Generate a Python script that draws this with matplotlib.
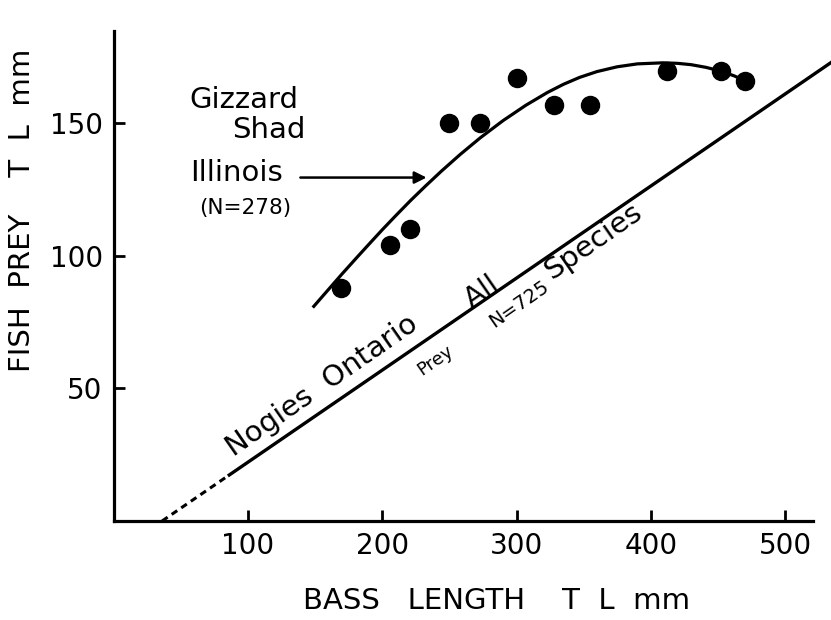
import matplotlib.pyplot as plt

# Gizzard shad eaten by bass, Illinois (N=278)
bass_len = [169, 206, 221, 250, 273, 300, 328, 355, 412, 452, 470]
prey_len = [88, 104, 110, 150, 150, 167, 157, 157, 170, 170, 166]

# fitted curve through the Illinois points
fit_x = [149, 160, 170, 181, 190, 200, 210, 221, 232, 244, 258, 273, 290,
         307, 323, 335, 347, 360, 375, 390, 409, 420, 430, 441, 452, 462, 472]
fit_y = [81, 87.4, 93.2, 99.4, 104.4, 109.9, 115.2, 120.9, 126.3, 132.0,
         138.3, 144.6, 151.1, 156.9, 161.7, 164.8, 167.4, 169.6, 171.4,
         172.5, 172.9, 172.7, 172.2, 171.2, 169.8, 168.0, 165.7]

# Nogies, Ontario - all prey species (N=725)
ont_dash_x = [36, 85]
ont_dash_y = [0, 17]
ont_x = [85, 540]
ont_y = [17, 175]

x_ticks = [100, 200, 300, 400, 500]
y_ticks = [50, 100, 150]

plt.rcParams['font.family'] = 'DejaVu Sans'

fig = plt.figure(figsize=(8.31, 6.2), dpi=100)
ax = fig.add_axes([0.1369, 0.1597, 0.8417, 0.7907])

ax.plot(ont_dash_x, ont_dash_y, color='black', lw=2.2, ls=(0, (2.2, 1.6)), clip_on=False)
ax.plot(ont_x, ont_y, color='black', lw=2.4, solid_capstyle='butt', clip_on=False)
ax.plot(fit_x, fit_y, color='black', lw=2.3, solid_joinstyle='round')
ax.plot(bass_len, prey_len, 'o', color='black', markersize=13, zorder=3)

ax.set_xlim(0, 521)
ax.set_ylim(0, 185)
ax.set_xticks(x_ticks)
ax.set_yticks(y_ticks)
ax.tick_params(direction='in', length=8, width=2, labelsize=20, pad=8)
for side in ['top', 'right']:
    ax.spines[side].set_visible(False)
for side in ['left', 'bottom']:
    ax.spines[side].set_linewidth(2.3)

# labels for the Illinois curve
ax.text(56, 159, 'Gizzard', fontsize=21, ha='left', va='center')
ax.text(142.5, 147.4, 'Shad', fontsize=21, ha='right', va='center')
ax.text(57, 131.3, 'Illinois', fontsize=21, ha='left', va='center')
ax.text(63.5, 118, '(N=278)', fontsize=15.5, ha='left', va='center')
ax.annotate('', xy=(233, 129.6), xytext=(139, 129.6),
            arrowprops=dict(arrowstyle='-|>', color='black', lw=1.8,
                            mutation_scale=18, shrinkA=0, shrinkB=0))

# labels along the Ontario line
ang = 34.8
ax.text(155, 51, 'Nogies  Ontario', fontsize=21, rotation=ang,
        rotation_mode='anchor', ha='center', va='center')
ax.text(274.4, 86.2, 'All', fontsize=21, rotation=ang,
        rotation_mode='anchor', ha='center', va='center')
ax.text(357, 105.5, 'Species', fontsize=21, rotation=ang,
        rotation_mode='anchor', ha='center', va='center')
ax.text(239.3, 60.5, 'Prey', fontsize=13, rotation=ang,
        rotation_mode='anchor', ha='center', va='center')
ax.text(302, 82, 'N=725', fontsize=14, rotation=ang,
        rotation_mode='anchor', ha='center', va='center')

fig.text(497 / 831, 1 - 601 / 620, 'BASS   LENGTH    T  L  mm', fontsize=21,
         ha='center', va='center')
fig.text(22 / 831, 1 - 210 / 620, 'FISH  PREY    T  L  mm', fontsize=21,
         ha='center', va='center', rotation=90)

fig.savefig('out.png', dpi=100, facecolor='white')
